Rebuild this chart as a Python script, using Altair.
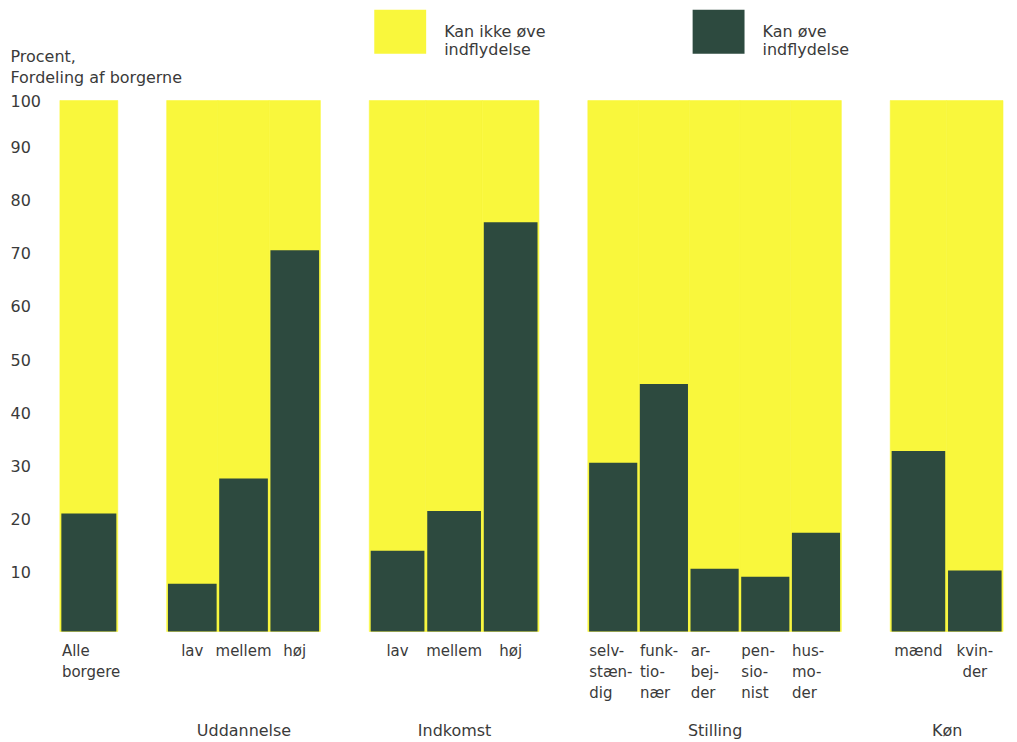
import altair as alt
import pandas as pd

# ---------------- data ----------------
SERIES_NO = "Kan ikke øve\nindflydelse"
SERIES_YES = "Kan øve\nindflydelse"
TOTAL = 100

alle_cats = ["Alle\nborgere"]
alle_vals = [22.2]

udd_cats = ["lav", "mellem", "høj"]
udd_vals = [9.0, 28.8, 71.8]

ind_cats = ["lav", "mellem", "høj"]
ind_vals = [15.2, 22.7, 77.1]

sti_cats = ["selv-\nstæn-\ndig", "funk-\ntio-\nnær", "ar-\nbej-\nder",
            "pen-\nsio-\nnist", "hus-\nmo-\nder"]
sti_vals = [31.8, 46.6, 11.8, 10.3, 18.6]

kon_cats = ["mænd", "kvin-\nder"]
kon_vals = [34.0, 11.5]

y_ticks = [10, 20, 30, 40, 50, 60, 70, 80, 90, 100]

# ---------------- style ----------------
YELLOW = "#F9F73C"
GREEN = "#2D4A3F"
TEXT = "#3a3a3a"
FONT = "DejaVu Sans"
PLOT_H = 532

color_enc = alt.Color(
    "serie:N",
    scale=alt.Scale(domain=[SERIES_NO, SERIES_YES], range=[YELLOW, GREEN]),
    legend=alt.Legend(
        title=None,
        orient="none",
        legendX=315,
        legendY=-95,
        padding=0,
        direction="horizontal",
        symbolType="M-1,-0.846H1V0.846H-1Z",
        symbolSize=2704,
        symbolStrokeWidth=0,
        symbolOpacity=1,
        labelExpr="split(datum.label, '\\n')",
        labelFont=FONT,
        labelFontSize=16,
        labelColor=TEXT,
        labelOffset=18,
        labelLimit=300,
        columnPadding=147,
    ),
)


def panel(cats, vals, group, width, first=False, label_align="center", label_offset=0):
    bg = pd.DataFrame({"kategori": cats, "verdi": [TOTAL] * len(cats), "serie": SERIES_NO})
    fg = pd.DataFrame({"kategori": cats, "verdi": vals, "serie": SERIES_YES})

    x_axis = alt.Axis(
        title=group if group else None,
        labelExpr="split(datum.label, '\\n')",
        labelAngle=0,
        labelAlign=label_align,
        labelOffset=label_offset,
        labelBaseline="top",
        labelPadding=12,
        labelLineHeight=21,
        labelFont=FONT,
        labelFontSize=15,
        labelColor=TEXT,
        ticks=False,
        domain=False,
        titleY=99,
        titleBaseline="middle",
        titleFont=FONT,
        titleFontSize=16,
        titleFontWeight="normal",
        titleColor=TEXT,
    )
    x_enc = alt.X("kategori:N", sort=cats,
                  scale=alt.Scale(paddingInner=0, paddingOuter=0), axis=x_axis)

    if first:
        y_axis = alt.Axis(
            values=y_ticks,
            title=["Procent,", "Fordeling af borgerne"],
            titleAngle=0,
            titleAlign="left",
            titleBaseline="bottom",
            titleX=-50,
            titleY=-36,
            titleFont=FONT,
            titleFontSize=16,
            titleFontWeight="normal",
            titleColor=TEXT,
            titleLineHeight=21,
            labelAlign="left",
            labelPadding=50,
            labelFlush=False,
            labelOffset={"condition": {"test": "datum.value == 100", "value": 1}, "value": -6},
            labelFont=FONT,
            labelFontSize=16,
            labelColor=TEXT,
            ticks=False,
            tickSize=0,
            domain=False,
            grid=False,
        )
    else:
        y_axis = None
    y_enc = alt.Y("verdi:Q", scale=alt.Scale(domain=[0, 100], nice=False), axis=y_axis)

    back = alt.Chart(bg).mark_bar(stroke=YELLOW, strokeWidth=0.6).encode(
        x=x_enc, y=y_enc, color=color_enc)
    front = alt.Chart(fg).mark_bar(width=alt.RelativeBandSize(0.95)).encode(
        x=x_enc, y=y_enc, color=color_enc)
    return alt.layer(back, front).properties(width=width, height=PLOT_H)


p_alle = panel(alle_cats, alle_vals, "", 58, first=True, label_align="left", label_offset=-27)
p_udd = panel(udd_cats, udd_vals, "Uddannelse", 154)
p_ind = panel(ind_cats, ind_vals, "Indkomst", 170)
p_sti = panel(sti_cats, sti_vals, "Stilling", 254, label_align="left", label_offset=-24)
p_kon = panel(kon_cats, kon_vals, "Køn", 113)

chart = (
    alt.hconcat(p_alle, p_udd, p_ind, p_sti, p_kon, spacing=49, bounds="flush")
    .resolve_scale(color="shared")
    .resolve_legend(color="shared")
    .properties(padding={"left": 2, "top": -3, "right": 5, "bottom": 5}, background="white")
    .configure_view(stroke=None)
)

chart.save("out.html", embed_options={"renderer": "svg", "actions": False})
